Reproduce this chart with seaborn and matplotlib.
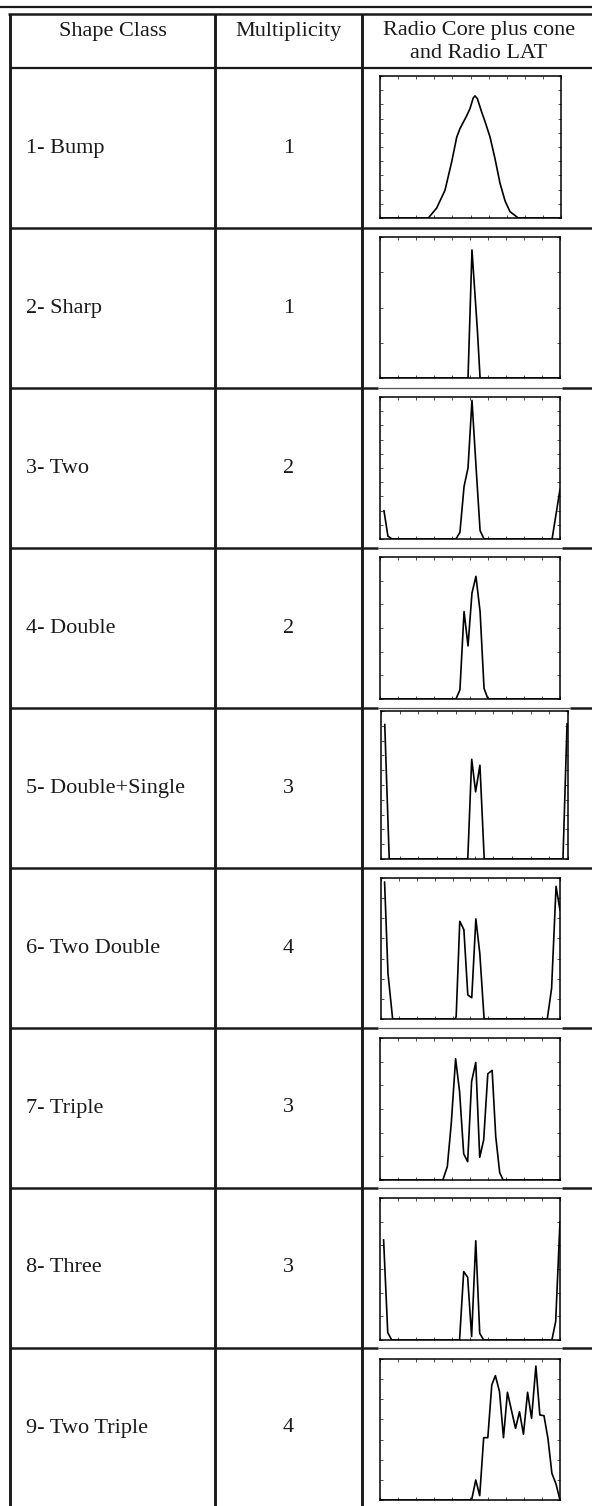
import numpy as np
import pandas as pd
import matplotlib
matplotlib.use("Agg")
import matplotlib.pyplot as plt
import seaborn as sns

# table text
header_cols = ["Shape Class", "Multiplicity"]
header_plot = ["Radio Core plus cone", "and Radio LAT"]
shape_classes = ["1- Bump", "2- Sharp", "3- Two", "4- Double", "5- Double+Single",
                 "6- Two Double", "7- Triple", "8- Three", "9- Two Triple"]
multiplicity = [1, 1, 2, 2, 3, 4, 3, 3, 4]

# light curves (phase, normalised flux)
bump_phase = [0.0, 0.267, 0.313, 0.359, 0.396, 0.424, 0.442, 0.479, 0.497, 0.515, 0.525,
              0.538, 0.562, 0.580, 0.608, 0.635, 0.663, 0.691, 0.718, 0.764, 1.0]
bump_flux = [0.0, 0.0, 0.07, 0.195, 0.395, 0.57, 0.63, 0.72, 0.77, 0.845, 0.86,
             0.84, 0.745, 0.68, 0.57, 0.42, 0.245, 0.12, 0.045, 0.0, 0.0]

sharp_phase = [0.0, 0.489, 0.511, 0.541, 0.556, 1.0]
sharp_flux = [0.0, 0.0, 0.908, 0.34, 0.0, 0.0]

two_phase = [0.022, 0.044, 0.067, 0.422, 0.444, 0.467, 0.489, 0.511, 0.533, 0.556, 0.578, 0.956, 1.0]
two_flux = [0.2, 0.02, 0.0, 0.0, 0.047, 0.37, 0.5, 0.976, 0.52, 0.059, 0.0, 0.0, 0.35]

double_phase = [0.0, 0.422, 0.444, 0.467, 0.489, 0.511, 0.533, 0.556, 0.578, 0.6, 1.0]
double_flux = [0.0, 0.0, 0.064, 0.616, 0.374, 0.746, 0.864, 0.616, 0.075, 0.0, 0.0]

dsingle_phase = [0.02, 0.044, 0.464, 0.485, 0.506, 0.529, 0.552, 0.973, 0.995]
dsingle_flux = [0.91, 0.0, 0.0, 0.674, 0.454, 0.634, 0.0, 0.0, 0.915]

twodouble_phase = [0.02, 0.039, 0.065, 0.414, 0.42, 0.44, 0.463, 0.485, 0.507, 0.53, 0.552,
                   0.576, 0.929, 0.953, 0.978, 1.0]
twodouble_flux = [0.972, 0.323, 0.0, 0.0, 0.017, 0.693, 0.634, 0.17, 0.151, 0.71, 0.465,
                  0.0, 0.0, 0.217, 0.941, 0.771]

triple_phase = [0.0, 0.349, 0.374, 0.396, 0.42, 0.442, 0.465, 0.487, 0.509, 0.532, 0.554,
                0.576, 0.599, 0.623, 0.643, 0.665, 0.684, 1.0]
triple_flux = [0.0, 0.0, 0.094, 0.4, 0.854, 0.624, 0.184, 0.129, 0.694, 0.828, 0.16,
               0.282, 0.748, 0.772, 0.306, 0.052, 0.0, 0.0]

three_phase = [0.02, 0.043, 0.065, 0.442, 0.465, 0.487, 0.509, 0.532, 0.554, 0.576,
               0.955, 0.976, 1.0]
three_flux = [0.706, 0.052, 0.0, 0.0, 0.482, 0.442, 0.024, 0.699, 0.047, 0.0,
              0.0, 0.13, 0.835]

twotriple_phase = [0.0, 0.509, 0.532, 0.554, 0.576, 0.599, 0.621, 0.641, 0.664, 0.686, 0.708,
                   0.730, 0.753, 0.775, 0.797, 0.820, 0.842, 0.866, 0.888, 0.911, 0.933,
                   0.955, 0.978, 1.0]
twotriple_flux = [0.0, 0.0, 0.142, 0.031, 0.442, 0.442, 0.816, 0.882, 0.768, 0.442, 0.764,
                  0.638, 0.508, 0.626, 0.466, 0.764, 0.579, 0.95, 0.603, 0.598, 0.437,
                  0.189, 0.113, 0.0]

profiles = [(bump_phase, bump_flux), (sharp_phase, sharp_flux), (two_phase, two_flux),
            (double_phase, double_flux), (dsingle_phase, dsingle_flux),
            (twodouble_phase, twodouble_flux), (triple_phase, triple_flux),
            (three_phase, three_flux), (twotriple_phase, twotriple_flux)]

# layout in pixels
W, H = 592, 1506
row_top = 68
row_h = 160
col_x = [10, 215, 362]
# panel boxes: left, right, top, bottom
boxes = [(380, 561, 76, 218), (380, 560, 237, 378), (380, 560, 397, 539),
         (380, 560, 557, 699), (381, 568, 711, 859), (381, 560, 878, 1019),
         (380, 560, 1038, 1180), (380, 560, 1198, 1340), (380, 560, 1359, 1500)]
y_divs = [10, 4, 10, 6, 10, 7, 6, 6, 7]

sns.set_style("ticks")
plt.rcParams['font.family'] = ['Liberation Serif', 'DejaVu Serif']

fig = plt.figure(figsize=(W / 100, H / 100), dpi=100)
bg = fig.add_axes([0, 0, 1, 1])
bg.set_xlim(0, W)
bg.set_ylim(H, 0)
bg.axis('off')

ink = '#1a1a1a'
thick = 2.1
# top double rule
bg.plot([0, W], [7, 7], color=ink, lw=1.6, solid_capstyle='butt')
bg.plot([8, W], [14, 14], color=ink, lw=1.8, solid_capstyle='butt')
# verticals
for x in col_x:
    bg.plot([x, x], [14, H], color=ink, lw=thick, solid_capstyle='butt')
# header bottom
bg.plot([col_x[0], W], [row_top, row_top], color=ink, lw=1.6, solid_capstyle='butt')
# row separators (partly hidden behind the panel images in the last column)
thin_rows = {2, 3, 4, 6, 7, 8}
for i in range(1, 9):
    y = row_top + i * row_h
    if i in thin_rows:
        bg.plot([col_x[0], 378], [y, y], color=ink, lw=1.8, solid_capstyle='butt')
        right_end = 570 if i == 4 else 562
        bg.plot([378, right_end], [y, y], color='#555555', lw=0.9, solid_capstyle='butt')
        bg.plot([right_end, W], [y, y], color=ink, lw=1.8, solid_capstyle='butt')
    else:
        bg.plot([col_x[0], W], [y, y], color=ink, lw=1.8, solid_capstyle='butt')

fs = 16
bg.text((col_x[0] + col_x[1]) / 2, 31, header_cols[0], ha='center', va='center', fontsize=fs, color=ink)
bg.text((col_x[1] + col_x[2]) / 2, 31, header_cols[1], ha='center', va='center', fontsize=fs, color=ink)
bg.text((col_x[2] + W) / 2 + 2, 30, header_plot[0], ha='center', va='center', fontsize=fs, color=ink)
bg.text((col_x[2] + W) / 2 + 2, 53, header_plot[1], ha='center', va='center', fontsize=fs, color=ink)

for i, (name, mult) in enumerate(zip(shape_classes, multiplicity)):
    yc = row_top + i * row_h + row_h / 2
    bg.text(26, yc, name, ha='left', va='center', fontsize=fs, color=ink)
    bg.text((col_x[1] + col_x[2]) / 2, yc, str(mult), ha='center', va='center', fontsize=fs, color=ink)

for i, ((phase, flux), (x0, x1, y0, y1)) in enumerate(zip(profiles, boxes)):
    ax = fig.add_axes([x0 / W, 1 - y1 / H, (x1 - x0) / W, (y1 - y0) / H])
    df = pd.DataFrame({'phase': phase, 'flux': flux})
    sns.lineplot(data=df, x='phase', y='flux', ax=ax, color='black', lw=1.2,
                 estimator=None, sort=False)
    ax.set_xlim(0, 1)
    ax.set_ylim(0, 1)
    ax.set_xticks(np.linspace(0, 1, 11))
    ax.set_yticks(np.linspace(0, 1, y_divs[i] + 1))
    ax.tick_params(direction='in', length=2.2, width=0.6, top=True, right=True,
                   labelbottom=False, labelleft=False, color='#333333')
    ax.set_xlabel('')
    ax.set_ylabel('')
    for sp in ax.spines.values():
        sp.set_linewidth(1.1)
        sp.set_color('black')

fig.savefig('out.png', dpi=100)
